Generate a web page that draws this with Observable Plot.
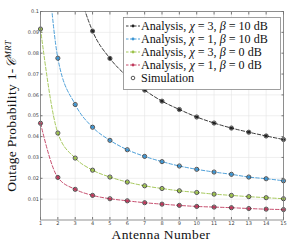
<!DOCTYPE html>
<html><head><meta charset="utf-8">
<script src="https://cdn.jsdelivr.net/npm/d3@7"></script>
<script src="https://cdn.jsdelivr.net/npm/@observablehq/plot@0.6"></script>
<style>
html,body{margin:0;padding:0;background:#fff;}
#chart{width:299px;height:243px;position:relative;}
</style></head>
<body><div id="chart"></div>
<script>
const antennas = [1,2,3,4,5,6,7,8,9,10,11,12,13,14,15];
const chi3b10 = [0.25,0.16,0.117,0.0906,0.0775,0.0688,0.0623,0.057,0.053,0.0494,0.0465,0.0441,0.0421,0.0403,0.0386];
const chi1b10 = [0.17,0.0776,0.0554,0.0445,0.0382,0.0337,0.0305,0.028,0.0259,0.0243,0.023,0.0219,0.0206,0.0198,0.0188];
const chi3b0  = [0.0916,0.0417,0.0297,0.0239,0.0206,0.0182,0.0164,0.0151,0.014,0.0132,0.0124,0.0118,0.0112,0.0107,0.0102];
const chi1b0  = [0.0464,0.0204,0.0147,0.0118,0.0102,0.0092,0.0083,0.0076,0.007,0.0065,0.0062,0.0059,0.0055,0.0052,0.005];
const seriesNames = ["Analysis, χ = 3, β = 10 dB","Analysis, χ = 1, β = 10 dB","Analysis, χ = 3, β = 0 dB","Analysis, χ = 1, β = 0 dB"];
const colors = ["#222222","#3b95d4","#9cc24a","#c0395c"];
const yTicks = [0.01,0.02,0.03,0.04,0.05,0.06,0.07,0.08,0.09,0.1];

const allSeries = [chi3b10, chi1b10, chi3b0, chi1b0];
const rows = [];
allSeries.forEach((vals, s) => vals.forEach((v, i) => rows.push({s, x: antennas[i], y: v})));
const visible = rows.filter(d => d.y <= 0.1);

const marks = [
  Plot.gridX(antennas, {stroke: "#e4e4e4", strokeOpacity: 1, strokeWidth: 0.6}),
  Plot.gridY(yTicks, {stroke: "#e4e4e4", strokeOpacity: 1, strokeWidth: 0.6}),
  Plot.axisX(antennas, {tickSize: -2.5, tickPadding: 3.5, fontSize: 5, fill: "#444", stroke: "#777", label: null}),
  Plot.axisY(yTicks, {tickSize: -2.5, tickPadding: 4, fontSize: 5, fill: "#444", stroke: "#777", label: null, tickFormat: d => d3.format("~g")(d)}),
  Plot.axisX(antennas, {anchor: "top", tickSize: -2.5, stroke: "#777", tickFormat: () => "", label: null}),
  Plot.axisY(yTicks, {anchor: "right", tickSize: -2.5, stroke: "#777", tickFormat: () => "", label: null}),
];
allSeries.forEach((vals, s) => {
  const data = vals.map((v, i) => ({x: antennas[i], y: v}));
  marks.push(Plot.line(data, {x: "x", y: "y", stroke: colors[s], strokeWidth: 0.9, strokeDasharray: "3.5,2", curve: "monotone-x", clip: true}));
  marks.push(Plot.dot(data.filter(d => d.y <= 0.1), {x: "x", y: "y", fill: colors[s], r: 1.6, stroke: "none"}));
});
marks.push(Plot.dot(visible, {x: "x", y: "y", r: 2.1, stroke: "#111", strokeWidth: 0.7, fill: "none"}));
marks.push(Plot.frame({stroke: "#777", strokeWidth: 0.8}));

const plot = Plot.plot({
  width: 299, height: 243,
  marginLeft: 40, marginRight: 16, marginTop: 11, marginBottom: 23.5,
  x: {domain: [1, 15]},
  y: {domain: [0, 0.1]},
  style: {background: "#fff", fontFamily: "DejaVu Sans, sans-serif"},
  marks
});
document.getElementById("chart").appendChild(plot);

const svg = d3.select(plot);
const serif = "'Liberation Serif', 'DejaVu Serif', serif";
// axis titles
svg.append("text").attr("x", 161).attr("y", 239).attr("text-anchor", "middle")
  .attr("font-family", serif).attr("font-size", 13.5).attr("letter-spacing", 0.4).attr("fill", "#111").text("Antenna Number");
const yl = svg.append("text").attr("transform", "translate(16,116) rotate(-90)").attr("text-anchor", "middle")
  .attr("font-family", serif).attr("font-size", 13.5).attr("letter-spacing", 0.3).attr("fill", "#111");
yl.append("tspan").text("Outage Probability 1-");
yl.append("tspan").attr("font-style", "italic").text("𝒞");
yl.append("tspan").attr("font-style", "italic").attr("font-size", 8.5).attr("dy", -5.5).text("MRT");

// legend
const lg = svg.append("g").attr("text-anchor", "start");
lg.append("rect").attr("x", 123.5).attr("y", 17.5).attr("width", 157).attr("height", 72)
  .attr("fill", "#fff").attr("stroke", "#888").attr("stroke-width", 0.8);
const rowsY = [26, 39, 52, 65, 78];
seriesNames.forEach((name, i) => {
  const y = rowsY[i];
  lg.append("line").attr("x1", 126).attr("x2", 140).attr("y1", y).attr("y2", y)
    .attr("stroke", colors[i]).attr("stroke-width", 0.9).attr("stroke-dasharray", "2.5,1.5");
  lg.append("circle").attr("cx", 133).attr("cy", y).attr("r", 1.4).attr("fill", colors[i]);
  const t = lg.append("text").attr("x", 141).attr("y", y + 4).attr("text-anchor", "start")
    .attr("font-family", serif).attr("font-size", 12.1).attr("fill", "#111");
  const parts = name.split(/(χ|β)/);
  parts.forEach(p => {
    const sp = t.append("tspan").text(p);
    if (p === "χ" || p === "β") sp.attr("font-style", "italic");
  });
});
lg.append("circle").attr("cx", 133).attr("cy", rowsY[4]).attr("r", 1.8).attr("fill", "none").attr("stroke", "#111").attr("stroke-width", 0.7);
lg.append("text").attr("x", 141).attr("y", rowsY[4] + 4).attr("text-anchor", "start").attr("font-family", serif)
  .attr("font-size", 12.1).attr("fill", "#111").text("Simulation");
</script>
</body></html>
